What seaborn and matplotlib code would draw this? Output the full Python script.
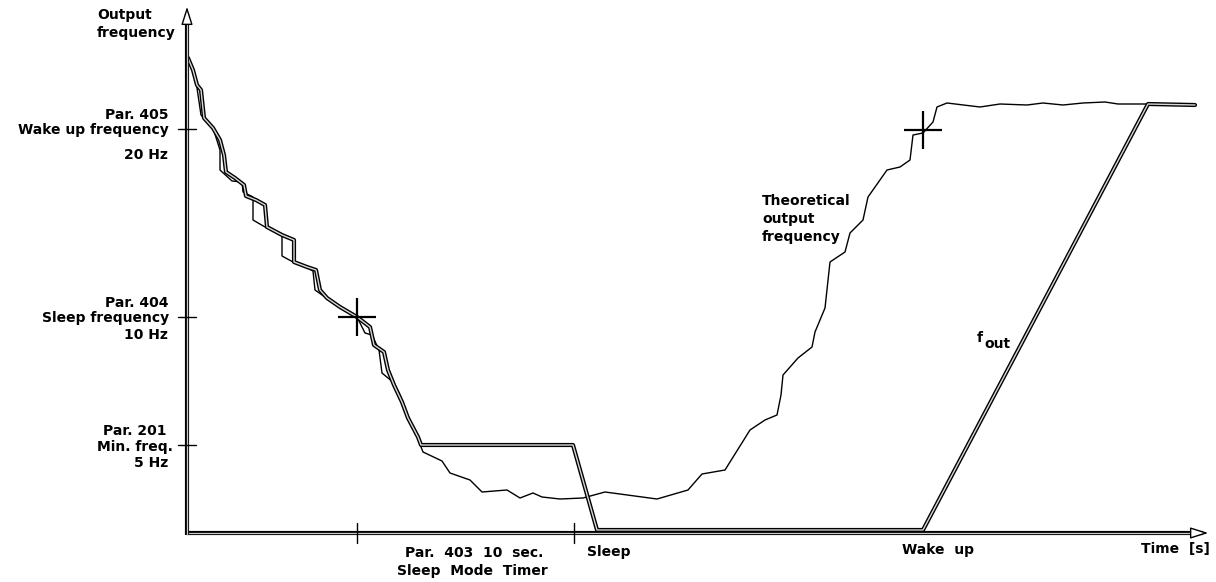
import matplotlib
matplotlib.use("Agg")
import matplotlib.pyplot as plt
import seaborn as sns
import pandas as pd

# ---- data (diagram units: time along x, frequency along y) ----
fout_t = [1, 6, 10, 14, 17, 26, 33, 37, 39, 48, 57, 59, 69, 78, 80, 95, 107, 107, 120, 129,
          133, 140, 153, 170, 183, 187, 197, 201, 207, 215, 221, 231, 234, 386, 410, 736, 961, 1008]
fout_f = [475, 463, 448, 443, 415, 405, 393, 378, 361, 355, 348, 337, 333, 328, 306, 298, 293, 271, 266, 263,
          243, 235, 226, 216, 206, 188, 181, 163, 148, 131, 115, 96, 88, 88, 3, 3, 429, 428]

theo_t = [1, 3, 9, 10, 14, 26, 33, 33, 45, 55, 56, 66, 66, 78, 95, 95, 106, 119, 126, 128,
          138, 153, 170, 178, 185, 192, 195, 207, 213, 221, 231, 234, 236, 255, 263, 283, 295,
          320, 333, 346, 355, 373, 396, 418, 470, 501, 515, 538, 563, 578, 590, 594, 596, 611,
          625, 628, 638, 643, 658, 663, 676, 681, 700, 713, 723, 726, 736, 746, 750, 760, 793,
          813, 840, 856, 876, 896, 918, 931, 960]
theo_f = [475, 468, 455, 445, 418, 405, 383, 363, 352, 351, 341, 336, 313, 306, 299, 277, 271, 266, 262, 243,
          236, 226, 216, 200, 198, 183, 160, 150, 138, 116, 96, 86, 81, 72, 60, 53, 41,
          43, 35, 40, 36, 34, 35, 41, 34, 43, 59, 63, 103, 113, 118, 138, 158, 175,
          186, 201, 225, 271, 281, 300, 313, 336, 363, 366, 373, 398, 400, 411, 426, 430, 426,
          429, 428, 430, 428, 430, 431, 429, 429]

ytick_pos = [404, 216, 88]
ytick_labels = [["Par. 405", "Wake up frequency", "20 Hz"],
                ["Par. 404", "Sleep frequency", "10 Hz"],
                ["Par. 201", "Min. freq.", "5 Hz"]]
xtick_pos = [170, 387]
cross_t = [170, 736]
cross_f = [216, 403]

sns.set_style("white")
plt.rcParams['font.family'] = ['DejaVu Sans']

fig = plt.figure(figsize=(12.16, 5.82), dpi=100)
ax = fig.add_axes([0, 0, 1, 1])
ax.set_xlim(-187, 1029)
ax.set_ylim(-49, 533)
ax.axis("off")

df_fout = pd.DataFrame({"t": fout_t, "f": fout_f})
df_theo = pd.DataFrame({"t": theo_t, "f": theo_f})

# theoretical output frequency (thin)
sns.lineplot(data=df_theo, x="t", y="f", sort=False, estimator=None, color="black", lw=1.0, ax=ax)
# f_out as double line
sns.lineplot(data=df_fout, x="t", y="f", sort=False, estimator=None, color="black", lw=3.0, ax=ax)
sns.lineplot(data=df_fout, x="t", y="f", sort=False, estimator=None, color="#d8d8d8", lw=1.0, ax=ax)

# axes as double lines
ax.plot([0, 1016], [0, 0], color="black", lw=3.0, solid_capstyle="butt")
ax.plot([0, 1016], [0, 0], color="#c8c8c8", lw=0.9, solid_capstyle="butt")
ax.plot([0, 0], [-2, 520], color="black", lw=3.0, solid_capstyle="butt")
ax.plot([0, 0], [-2, 520], color="#c8c8c8", lw=0.9, solid_capstyle="butt")
ax.annotate("", xy=(1024, 0), xytext=(1008, 0),
            arrowprops=dict(arrowstyle="-|>,head_length=1.1,head_width=0.35", fc="white", ec="black", lw=1.0))
ax.annotate("", xy=(0, 529), xytext=(0, 512),
            arrowprops=dict(arrowstyle="-|>,head_length=1.1,head_width=0.35", fc="white", ec="black", lw=1.0))

# ticks
for yp in ytick_pos:
    ax.plot([-9, 9], [yp, yp], color="black", lw=1.0)
for xp in xtick_pos:
    ax.plot([xp, xp], [-10, 10], color="black", lw=1.0)

# crosses
ax.plot(cross_t, cross_f, ls="none", marker="+", ms=28, mew=1.6, color="black")

fs = 10
bold = dict(fontsize=fs, fontweight="bold", color="black")

ax.text(-90, 509, "Output\nfrequency", ha="left", va="center", linespacing=1.45, **bold)

label_y = [[418, 403, 378], [230, 215, 198], [102, 86, 70]]
label_x = [[-18, -18, -19], [-18, -18, -19], [-20, -14, -19]]
for lines, ys, xs in zip(ytick_labels, label_y, label_x):
    for s, yy, xx in zip(lines, ys, xs):
        ax.text(xx, yy, s, ha="right", va="center", **bold)

ax.text(287, -20, "Par.  403  10  sec.", ha="center", va="center", **bold)
ax.text(285, -38, "Sleep  Mode  Timer", ha="center", va="center", **bold)
ax.text(400, -19, "Sleep", ha="left", va="center", **bold)
ax.text(715, -17, "Wake  up", ha="left", va="center", **bold)
ax.text(1023, -16, "Time  [s]", ha="right", va="center", **bold)
ax.text(575, 314, "Theoretical\noutput\nfrequency", ha="left", va="center", linespacing=1.35, **bold)
ax.text(790, 195, "f", ha="left", va="center", **bold)
ax.text(797, 189, "out", ha="left", va="center", **bold)

fig.savefig("out.png", dpi=100)
